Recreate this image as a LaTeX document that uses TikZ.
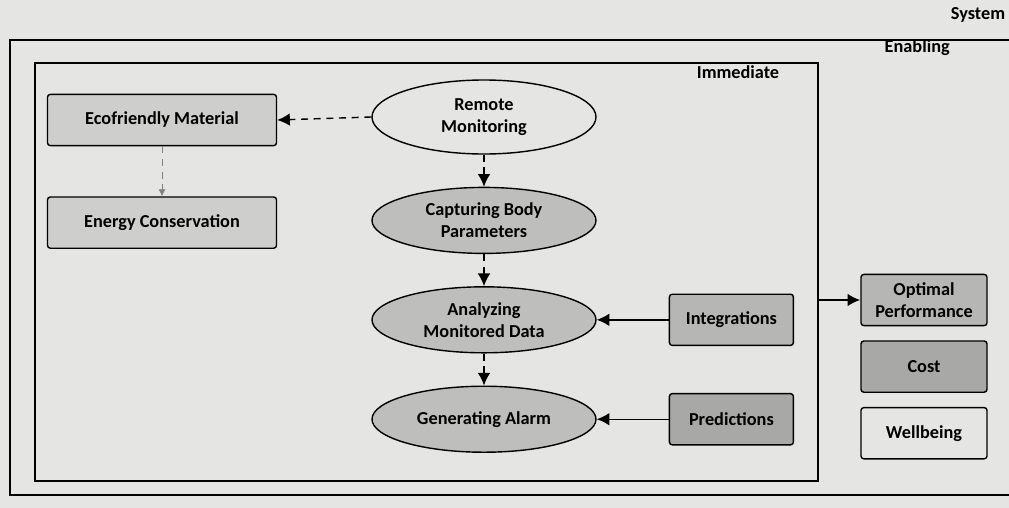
\documentclass[tikz,border=0pt]{standalone}
\usepackage{fontspec}
\setmainfont{Carlito}
\usetikzlibrary{positioning, shapes.geometric, arrows.meta}
\definecolor{paper}{RGB}{229,229,227}
\definecolor{lightgrey}{RGB}{206,206,204}
\definecolor{ovalgrey}{RGB}{190,190,188}
\definecolor{midgrey}{RGB}{182,182,180}
\definecolor{darkgrey}{RGB}{168,168,166}

\begin{document}
\begin{tikzpicture}[>={Latex[length=9pt, width=9pt]}, font=\bfseries\fontsize{13}{15.6}\selectfont,
    ovalnode/.style={ellipse, draw, line width=1pt, fill=ovalgrey, minimum width=5.6cm, minimum height=1.65cm, inner sep=0pt, align=center},
    boxnode/.style={rectangle, rounded corners=2pt, draw, line width=1pt, align=center, minimum height=1.28cm},
    framebox/.style={rectangle, draw, line width=1.6pt},
    dashedline/.style={line width=1pt, dash pattern=on 5pt off 4pt},]
    \fill[paper] (0,0) rectangle (25.225,-12.7);
    \useasboundingbox (0,0) rectangle (25.225,-12.7);
    % frames
    \draw[line width=1.6pt] (25.225,-1.0) -- (0.25,-1.0) -- (0.25,-12.375) -- (25.225,-12.375);
    \node[framebox, minimum width=19.575cm, minimum height=10.45cm] (imm) at (10.66,-6.8) {};
    \node (syslabel)  at (24.45,-0.38)  {System};
    \node (enablabel) at (22.93,-1.2)  {Enabling};
    \node (immlabel)  at (18.45,-1.8)  {Immediate};
    % nodes
    \node[ovalnode, fill=paper, minimum height=1.85cm] (RM) at (12.1,-2.925) {Remote\\Monitoring};
    \node[ovalnode]  (CB)  [below=0.8cm of RM]  {Capturing Body\\Parameters};
    \node[ovalnode]  (AM)  [below=0.8cm of CB]  {Analyzing\\Monitored Data};
    \node[ovalnode]  (GA)  [below=0.8cm of AM]  {Generating Alarm};
    \node[boxnode, fill=lightgrey, minimum width=5.725cm] (EM) at (4.05,-3.0) {Ecofriendly Material};
    \node[boxnode, fill=lightgrey, minimum width=5.725cm] (EC) [below=1.25cm of EM] {Energy Conservation};
    \node[boxnode, fill=midgrey, minimum width=3.1cm]  (IN)  [right=1.8cm of AM]  {Integrations};
    \node[boxnode, fill=darkgrey, minimum width=3.1cm] (PR)  [right=1.8cm of GA]  {Predictions};
    \node[boxnode, fill=midgrey, minimum width=3.15cm] (OP) at (23.1,-7.5) {Optimal\\Performance};
    \node[boxnode, fill=darkgrey, minimum width=3.15cm] (CO) [below=0.35cm of OP] {Cost};
    \node[boxnode, fill=paper, minimum width=3.15cm]    (WB) [below=0.35cm of CO] {Wellbeing};
    % lines
    \draw[->, dashedline] (RM.west) -- (EM.east);
    \draw[-{Latex[length=5pt, width=5pt]}, dashedline, gray, semithick] (EM.south) -- (EC.north);
    \draw[->, dashedline] (RM.south) -- (CB.north);
    \draw[->, dashedline] (CB.south) -- (AM.north);
    \draw[->, dashedline] (AM.south) -- (GA.north);
    \draw[->, line width=1pt] (IN.west) -- (AM.east);
    \draw[->, line width=1pt] (PR.west) -- (GA.east);
    \draw[->, line width=1.6pt] (imm.east |- OP.west) -- (OP.west);
\end{tikzpicture}
\end{document}
